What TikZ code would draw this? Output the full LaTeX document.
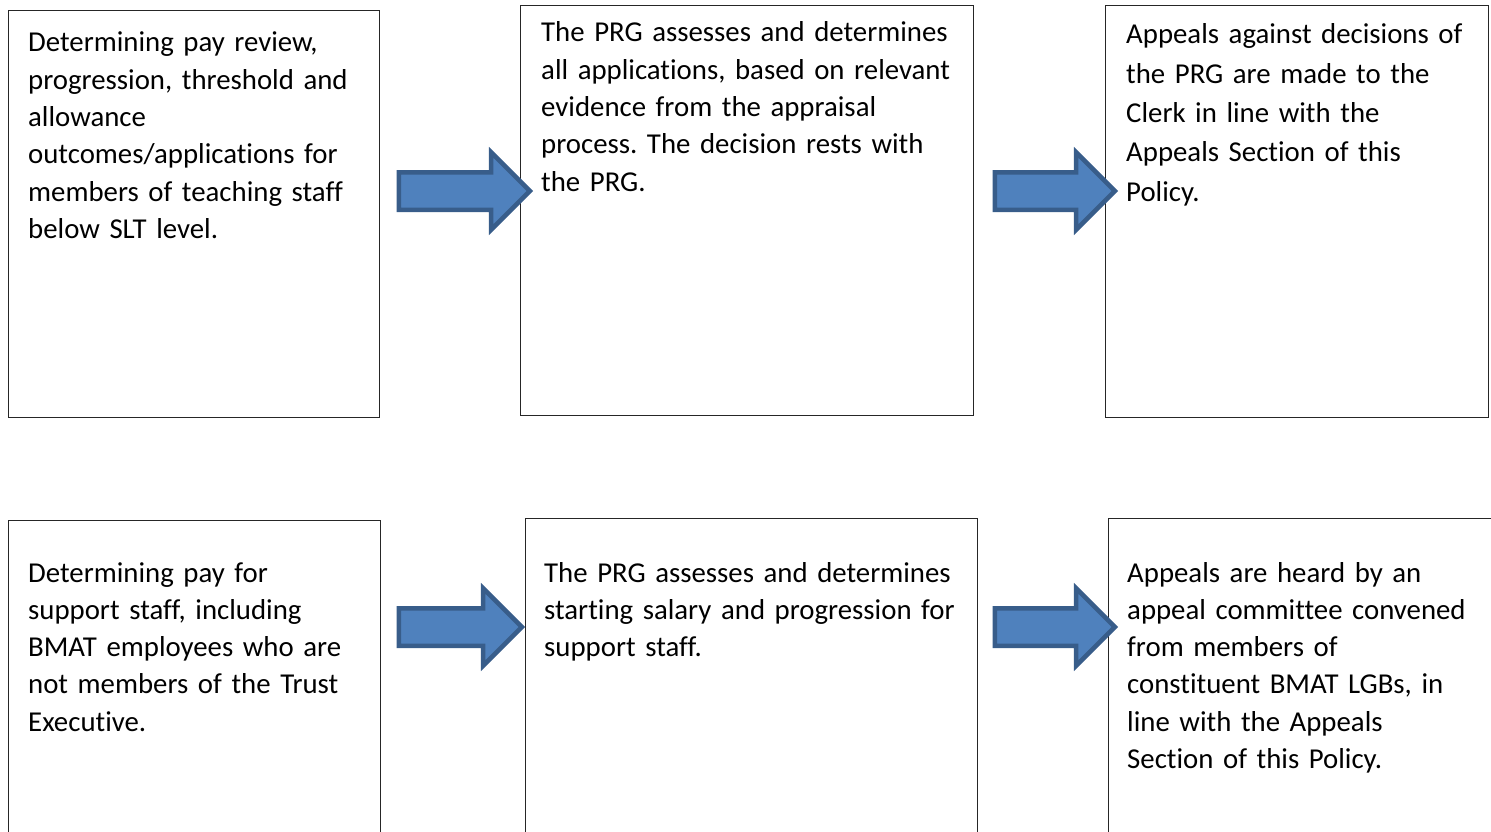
\documentclass[tikz,border=0pt]{standalone}
\usepackage{fontspec}
\setmainfont{Carlito}[Ligatures=CommonOff]
\usetikzlibrary{shapes.arrows}
\definecolor{arrowfill}{HTML}{4F81BD}
\definecolor{arrowedge}{HTML}{385D8A}
\frenchspacing
\begin{document}
\begin{tikzpicture}[x=1pt,y=-1pt]
\tikzstyle{box}=[draw=black!85,line width=1.2pt,rectangle,anchor=north west,inner sep=0pt]
\tikzstyle{txt}=[anchor=base west,inner sep=0pt,text width=450pt,align=left,font=\fontsize{28.8}{37.3}\selectfont]
\tikzstyle{blockarrow}=[single arrow,draw=arrowedge,fill=arrowfill,line width=4.5pt,inner xsep=0pt,inner ysep=16.5pt,minimum width=73pt,single arrow head extend=20pt,single arrow head indent=0pt]
\useasboundingbox (0,0) rectangle (1491,832);
\clip (0,0) rectangle (1491,832);
% top row
\node[box,minimum width=371pt,minimum height=407pt](b00) at (8,10) {};
\node[box,minimum width=453pt,minimum height=410pt](b01) at (520,5) {};
\node[box,minimum width=383pt,minimum height=412pt](b02) at (1105,5) {};
\node[txt](t00) at (28,52) {Determining pay review,\\progression, threshold and\\allowance\\outcomes/applications for\\members of teaching staff\\below SLT level.};
\node[txt](t01) at (541,42) {The PRG assesses and determines\\all applications, based on relevant\\evidence from the appraisal\\process. The decision rests with\\the PRG.};
\node[txt,font=\fontsize{28.8}{39.3}\selectfont](t02) at (1126,44) {Appeals against decisions of\\the PRG are made to the\\Clerk in line with the\\Appeals Section of this\\Policy.};
\node[blockarrow,minimum height=131pt](a00) at (455,191) {};
\node[blockarrow,minimum height=120pt](a01) at (1045.5,191) {};
% bottom row
\node[box,minimum width=372pt,minimum height=400pt](b10) at (8,520) {};
\node[box,minimum width=452pt,minimum height=400pt](b11) at (525,518) {};
\node[box,minimum width=500pt,minimum height=400pt](b12) at (1108,518) {};
\node[txt](t10) at (28,582) {Determining pay for\\support staff, including\\BMAT employees who are\\not members of the Trust\\Executive.};
\node[txt](t11) at (544,582) {The PRG assesses and determines\\starting salary and progression for\\support staff.};
\node[txt](t12) at (1127,582) {Appeals are heard by an\\appeal committee convened\\from members of\\constituent BMAT LGBs, in\\line with the Appeals\\Section of this Policy.};
\node[blockarrow,minimum height=123pt](a10) at (451,627) {};
\node[blockarrow,minimum height=120pt](a11) at (1045.5,627) {};
\end{tikzpicture}
\end{document}
